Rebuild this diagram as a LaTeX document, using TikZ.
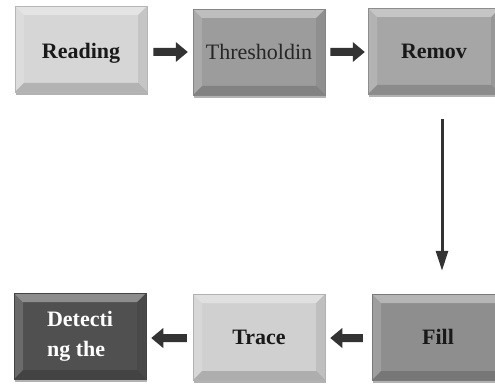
\documentclass[tikz,border=0pt]{standalone}
\usepackage{fontspec}
\setmainfont{Liberation Serif}
\usetikzlibrary{calc,arrows.meta,shadows}
\definecolor{arrowc}{HTML}{333333}
\definecolor{cRead}{HTML}{D6D6D6}
\definecolor{cThr}{HTML}{9C9C9C}
\definecolor{cRem}{HTML}{A6A6A6}
\definecolor{cDet}{HTML}{505050}
\definecolor{cTra}{HTML}{D0D0D0}
\definecolor{cFil}{HTML}{8E8E8E}
\tikzset{
  bevelbox/.style={rectangle, fill=#1, draw=#1!85!black, line width=0.5pt,
    minimum width=132pt, minimum height=86pt, inner sep=0pt,
    font=\fontsize{22}{30}\selectfont\bfseries, text=black!90,
    drop shadow={shadow xshift=1pt, shadow yshift=-3pt, opacity=0.3, fill=black},
    path picture={
      \def\bv{9pt}
      \coordinate (pnw) at (path picture bounding box.north west);
      \coordinate (pne) at (path picture bounding box.north east);
      \coordinate (psw) at (path picture bounding box.south west);
      \coordinate (pse) at (path picture bounding box.south east);
      \fill[white,opacity=0.35] (pnw) -- (pne) -- ([xshift=-\bv,yshift=-\bv]pne) -- ([xshift=\bv,yshift=-\bv]pnw) -- cycle;
      \fill[white,opacity=0.15] (pnw) -- ([xshift=\bv,yshift=-\bv]pnw) -- ([xshift=\bv,yshift=\bv]psw) -- (psw) -- cycle;
      \fill[black,opacity=0.08] (pne) -- (pse) -- ([xshift=-\bv,yshift=\bv]pse) -- ([xshift=-\bv,yshift=-\bv]pne) -- cycle;
      \fill[black,opacity=0.16] (psw) -- (pse) -- ([xshift=-\bv,yshift=\bv]pse) -- ([xshift=\bv,yshift=\bv]psw) -- cycle;
    }},
  vline/.style={draw=arrowc, line width=3pt, -{Triangle[width=12pt,length=20pt]}}
}
\newcommand\blockarr[2]{%
  \fill[arrowc] let \p1=(#1), \p2=(#2), \n1={sign(\x2-\x1)} in
    (\x1,\y1+4pt) -- (\x2-\n1*12pt,\y1+4pt) -- (\x2-\n1*12pt,\y1+10pt) -- (\x2,\y1)
    -- (\x2-\n1*12pt,\y1-10pt) -- (\x2-\n1*12pt,\y1-4pt) -- (\x1,\y1-4pt) -- cycle;}
\begin{document}
\begin{tikzpicture}[x=1pt,y=-1pt]
\useasboundingbox[fill=white] (0,0) rectangle (495,385);
\node[bevelbox=cRead, text depth=0pt] (reading) at (81,49) {\raisebox{-4pt}{Reading}};
\node[bevelbox=cThr, font=\fontsize{22}{30}\selectfont, text=black!85] (thr) at (259,52) {\raisebox{-4pt}{Thresholdin}};
\node[bevelbox=cRem] (remov) at (434,51) {\raisebox{-2pt}{Remov}};
\node[bevelbox=cDet, text=white, align=left] (det) at (80,336) {\raisebox{-3pt}{Detecti}\\\raisebox{-3pt}{ng the}};
\node[bevelbox=cTra] (trace) at (259,337) {\raisebox{-4pt}{Trace}};
\node[bevelbox=cFil] (fill) at (438,337) {\raisebox{-4pt}{Fill}};
\blockarr{$(reading.east)+(6pt,-3pt)$}{$(thr.west)+(-5pt,-3pt)$}
\blockarr{$(thr.east)+(5pt,0pt)$}{$(remov.west)+(-3pt,0pt)$}
\blockarr{$(trace.west)+(-6pt,-1pt)$}{$(det.east)+(5pt,-1pt)$}
\blockarr{$(fill.west)+(-9pt,-1pt)$}{$(trace.east)+(5pt,-1pt)$}
\draw[vline] ($(remov.south)+(8pt,-25pt)$) -- ($(fill.north)+(4pt,23pt)$);
\end{tikzpicture}
\end{document}
